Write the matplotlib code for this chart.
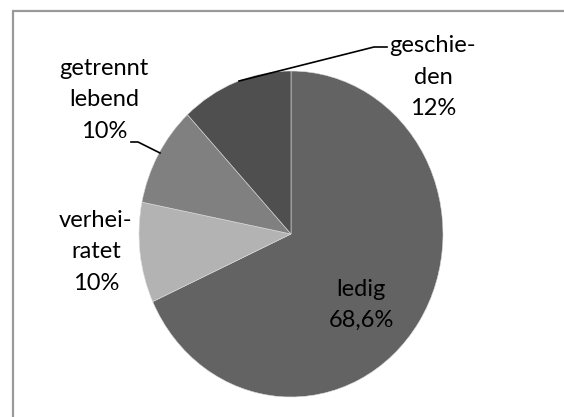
import matplotlib
matplotlib.use("Agg")
import matplotlib.pyplot as plt
from matplotlib.patches import Rectangle

categories = ["ledig", "verheiratet", "getrennt lebend", "geschieden"]
values = [68.6, 10, 10, 12]
label_texts = ["ledig\n68,6%", "verhei-\nratet\n10%", "getrennt\nlebend\n10%", "geschie-\nden\n12%"]
colors = ["#636363", "#b3b3b3", "#808080", "#4f4f4f"]

plt.rcParams['font.family'] = ['Lato', 'DejaVu Sans']

W, H = 564, 417
fig = plt.figure(figsize=(W / 100, H / 100), dpi=100)
ax = fig.add_axes([0, 0, 1, 1])

cx, cy, rx, ry = 291, 234, 152, 163

def d(px, py):
    return (px - cx) / rx, (cy - py) / ry

ax.pie(values, colors=colors, startangle=90, counterclock=False,
       wedgeprops=dict(linewidth=0.4, edgecolor="#dddddd"))
ax.set_aspect('auto')
x0, _ = d(0, 0)
x1, _ = d(W, 0)
_, y0 = d(0, H)
_, y1 = d(0, 0)
ax.set_xlim(x0, x1)
ax.set_ylim(y0, y1)
ax.axis('off')

fs = 17
pos = [(361, 305), (96, 252), (104, 100), (433, 77)]
for t, (px, py) in zip(label_texts, pos):
    x, y = d(px, py)
    ax.text(x, y, t, ha='center', va='center', fontsize=fs, color='black',
            linespacing=1.62)

# leader lines
lx, ly = zip(*[d(131, 142), d(138, 142), d(160, 153)])
ax.plot(lx, ly, color='black', lw=1.2)
lx, ly = zip(*[d(239, 81), d(374, 47), d(387, 47)])
ax.plot(lx, ly, color='black', lw=1.2)

fig.patches.append(Rectangle((12.5 / W, -0.1), 1.0, 1.1 - 10.5 / H,
                             transform=fig.transFigure, fill=False,
                             edgecolor='#999999', linewidth=1.6))

fig.savefig("out.png", dpi=100, facecolor='white')
